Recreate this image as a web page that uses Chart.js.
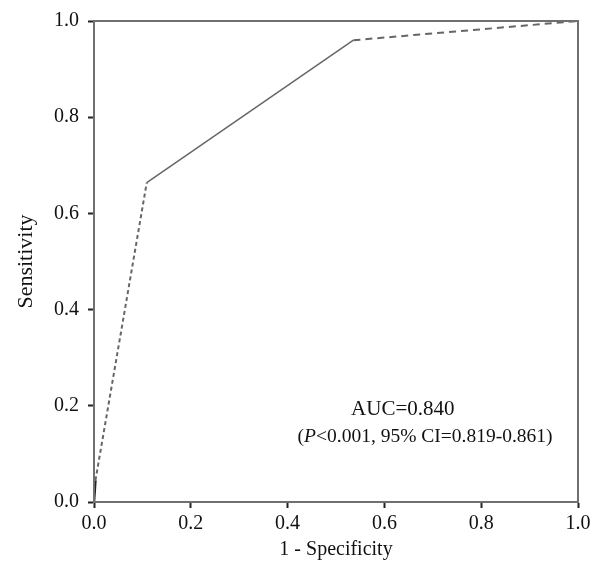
<!DOCTYPE html>
<html>
<head>
<meta charset="utf-8">
<script src="https://cdn.jsdelivr.net/npm/chart.js@4"></script>
<style>
  body { margin: 0; background: #fff; }
  #wrap { width: 603px; height: 575px; }
</style>
</head>
<body>
<div id="wrap"><canvas id="roc"></canvas></div>
<script>
// ROC points
const fpr = [0, 0.003, 0.109, 0.536, 1];
const tpr = [0, 0.045, 0.664, 0.960, 1];
const tickValues = [0, 0.2, 0.4, 0.6, 0.8, 1.0];
const aucLine = 'AUC=0.840';
const statsLine = ['(', 'P', '<0.001, 95% CI=0.819-0.861)'];

const serif = '"Liberation Serif", "DejaVu Serif", serif';

// line style per segment: solid start, dotted, solid, dashed
const segDash = [[], [4, 3], [], [7, 5]];
const segWidth = [2.5, 2, 1.5, 2];
const segColor = ['#222', '#666', '#666', '#666'];

const points = fpr.map((x, i) => ({ x: x, y: tpr[i] }));

const frame = {
    id: 'frame',
    afterDraw(chart) {
        const { ctx, chartArea: a, scales } = chart;
        ctx.save();
        ctx.strokeStyle = '#707070';
        ctx.lineWidth = 2;
        ctx.strokeRect(a.left, a.top, a.right - a.left, a.bottom - a.top);

        // annotation text
        ctx.fillStyle = '#111';
        ctx.textBaseline = 'middle';
        ctx.font = '21px ' + serif;
        ctx.textAlign = 'center';
        ctx.fillText(aucLine, scales.x.getPixelForValue(0.638), scales.y.getPixelForValue(0.192));

        const italic = 'italic 19.5px ' + serif;
        const normal = '19.5px ' + serif;
        const fonts = [normal, italic, normal];
        let widths = statsLine.map((s, i) => { ctx.font = fonts[i]; return ctx.measureText(s).width; });
        let total = widths.reduce((a, b) => a + b, 0);
        let x = scales.x.getPixelForValue(0.684) - total / 2;
        const y = scales.y.getPixelForValue(0.135);
        ctx.textAlign = 'left';
        statsLine.forEach((s, i) => {
            ctx.font = fonts[i];
            ctx.fillText(s, x, y);
            x += widths[i];
        });
        ctx.restore();
    }
};

new Chart(document.getElementById('roc'), {
    type: 'scatter',
    data: {
        datasets: [{
            data: points,
            showLine: true,
            pointRadius: 0,
            borderColor: '#666',
            borderWidth: 2,
            segment: {
                borderDash: c => segDash[c.p0DataIndex],
                borderWidth: c => segWidth[c.p0DataIndex],
                borderColor: c => segColor[c.p0DataIndex]
            }
        }]
    },
    options: {
        responsive: true,
        maintainAspectRatio: false,
        animation: false,
        layout: { padding: { top: 21, right: 25, left: 0, bottom: 0 } },
        plugins: {
            legend: { display: false },
            tooltip: { enabled: false }
        },
        scales: {
            x: {
                type: 'linear',
                min: 0,
                max: 1,
                afterFit: s => { s.height = 73; },
                afterBuildTicks: s => { s.ticks = tickValues.map(v => ({ value: v })); },
                border: { display: true, color: '#707070', width: 2 },
                grid: { drawOnChartArea: false, drawTicks: true, tickLength: 6, tickColor: '#222', tickWidth: 2 },
                ticks: {
                    color: '#111',
                    padding: 4,
                    font: { family: serif, size: 20 },
                    callback: v => v.toFixed(1)
                },
                title: {
                    display: true,
                    text: '1 - Specificity',
                    color: '#111',
                    font: { family: serif, size: 20 },
                    padding: { top: 0, bottom: 13 }
                }
            },
            y: {
                type: 'linear',
                min: 0,
                max: 1,
                afterFit: s => { s.width = 94; },
                afterBuildTicks: s => { s.ticks = tickValues.map(v => ({ value: v })); },
                border: { display: true, color: '#707070', width: 2 },
                grid: { drawOnChartArea: false, drawTicks: true, tickLength: 6, tickColor: '#222', tickWidth: 2 },
                ticks: {
                    color: '#111',
                    padding: 9,
                    font: { family: serif, size: 20 },
                    callback: v => v.toFixed(1)
                },
                title: {
                    display: true,
                    text: 'Sensitivity',
                    color: '#111',
                    font: { family: serif, size: 22 },
                    padding: { top: 13, bottom: 0 }
                }
            }
        }
    },
    plugins: [frame]
});
</script>
</body>
</html>
